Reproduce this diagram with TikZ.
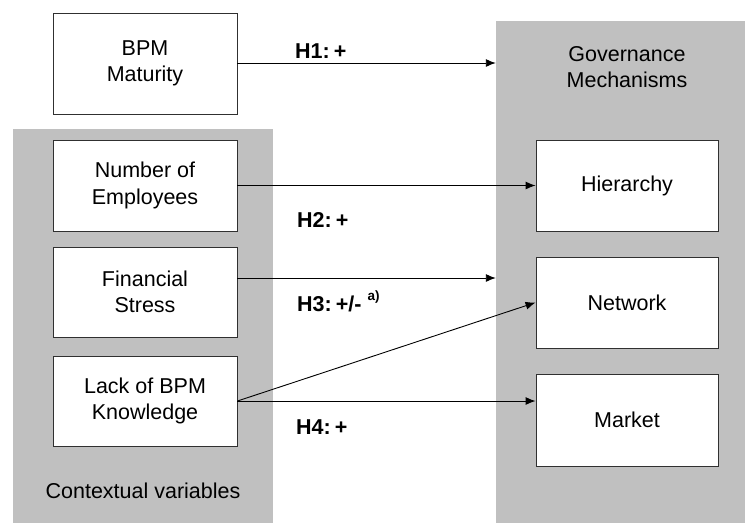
\documentclass[tikz,border=0pt]{standalone}
\usepackage{fontspec}
\setmainfont{Liberation Sans}
\usetikzlibrary{arrows.meta}
\definecolor{panelgray}{HTML}{C0C0C0}
\definecolor{edgegray}{HTML}{303030}
\begin{document}
\begin{tikzpicture}[x=1pt,y=-1pt,
  box/.style={draw=edgegray, line width=0.9pt, fill=white, minimum width=184pt,
    minimum height=91pt, align=center, inner sep=0pt,
    font=\fontsize{21.5}{26.5}\selectfont},
  rbox/.style={box, minimum width=182pt},
  panel/.style={fill=panelgray, draw=none, inner sep=0pt},
  conn/.style={line width=0.9pt, -{Latex[length=10pt,width=8pt]}},
  hyp/.style={font=\fontsize{21.5}{26}\selectfont\bfseries, anchor=base west, inner sep=0pt},
  plaintext/.style={font=\fontsize{21.5}{26}\selectfont, align=center, inner sep=0pt}]

\useasboundingbox (0,0) rectangle (745,523);

% panels
\node[panel, minimum width=260pt, minimum height=394pt] (ctx) at (143,326) {};
\node[panel, minimum width=249pt, minimum height=502pt] (gov) at (620.5,272) {};

\node[plaintext] (govlabel) at (627,67) {Governance\\Mechanisms};
\node[plaintext] (ctxlabel) at (143,491) {Contextual variables};

% left boxes
\node[box, minimum height=101pt] (bpm) at (145,63.5) {BPM\\Maturity};
\node[box] (emp) at (145,185.5) {Number of\\Employees};
\node[box, minimum height=90pt] (fin) at (145,292) {Financial\\Stress};
\node[box, minimum height=90pt] (lack) at (145,401) {Lack of BPM\\Knowledge};

% right boxes
\node[rbox] (hier) at (627,185.5) {Hierarchy};
\node[rbox] (net) at (627,302.5) {Network};
\node[rbox, minimum height=92pt] (market) at (627,420) {Market};

% connectors
\draw[conn] ([yshift=0.5pt]bpm.east) -- ([yshift=0.5pt]bpm.east -| gov.west);
\draw[conn] (emp.east) -- (hier.west);
\draw[conn] ([yshift=14pt]fin.east) -- ([yshift=14pt]fin.east -| gov.west);
\draw[conn] (lack.east) -- (net.west);
\draw[conn] (lack.east) -- (lack.east -| market.west);

% hypothesis labels
\node[hyp] (h1) at (295,58) {H1:\kern4pt+};
\node[hyp] (h2) at (297,227.5) {H2:\kern4pt+};
\node[hyp] (h3) at (297,311.5) {H3:\kern4pt+/- \raisebox{11pt}{\fontsize{13.5}{15}\selectfont a)}};
\node[hyp] (h4) at (296,434) {H4:\kern4pt+};
\end{tikzpicture}
\end{document}
